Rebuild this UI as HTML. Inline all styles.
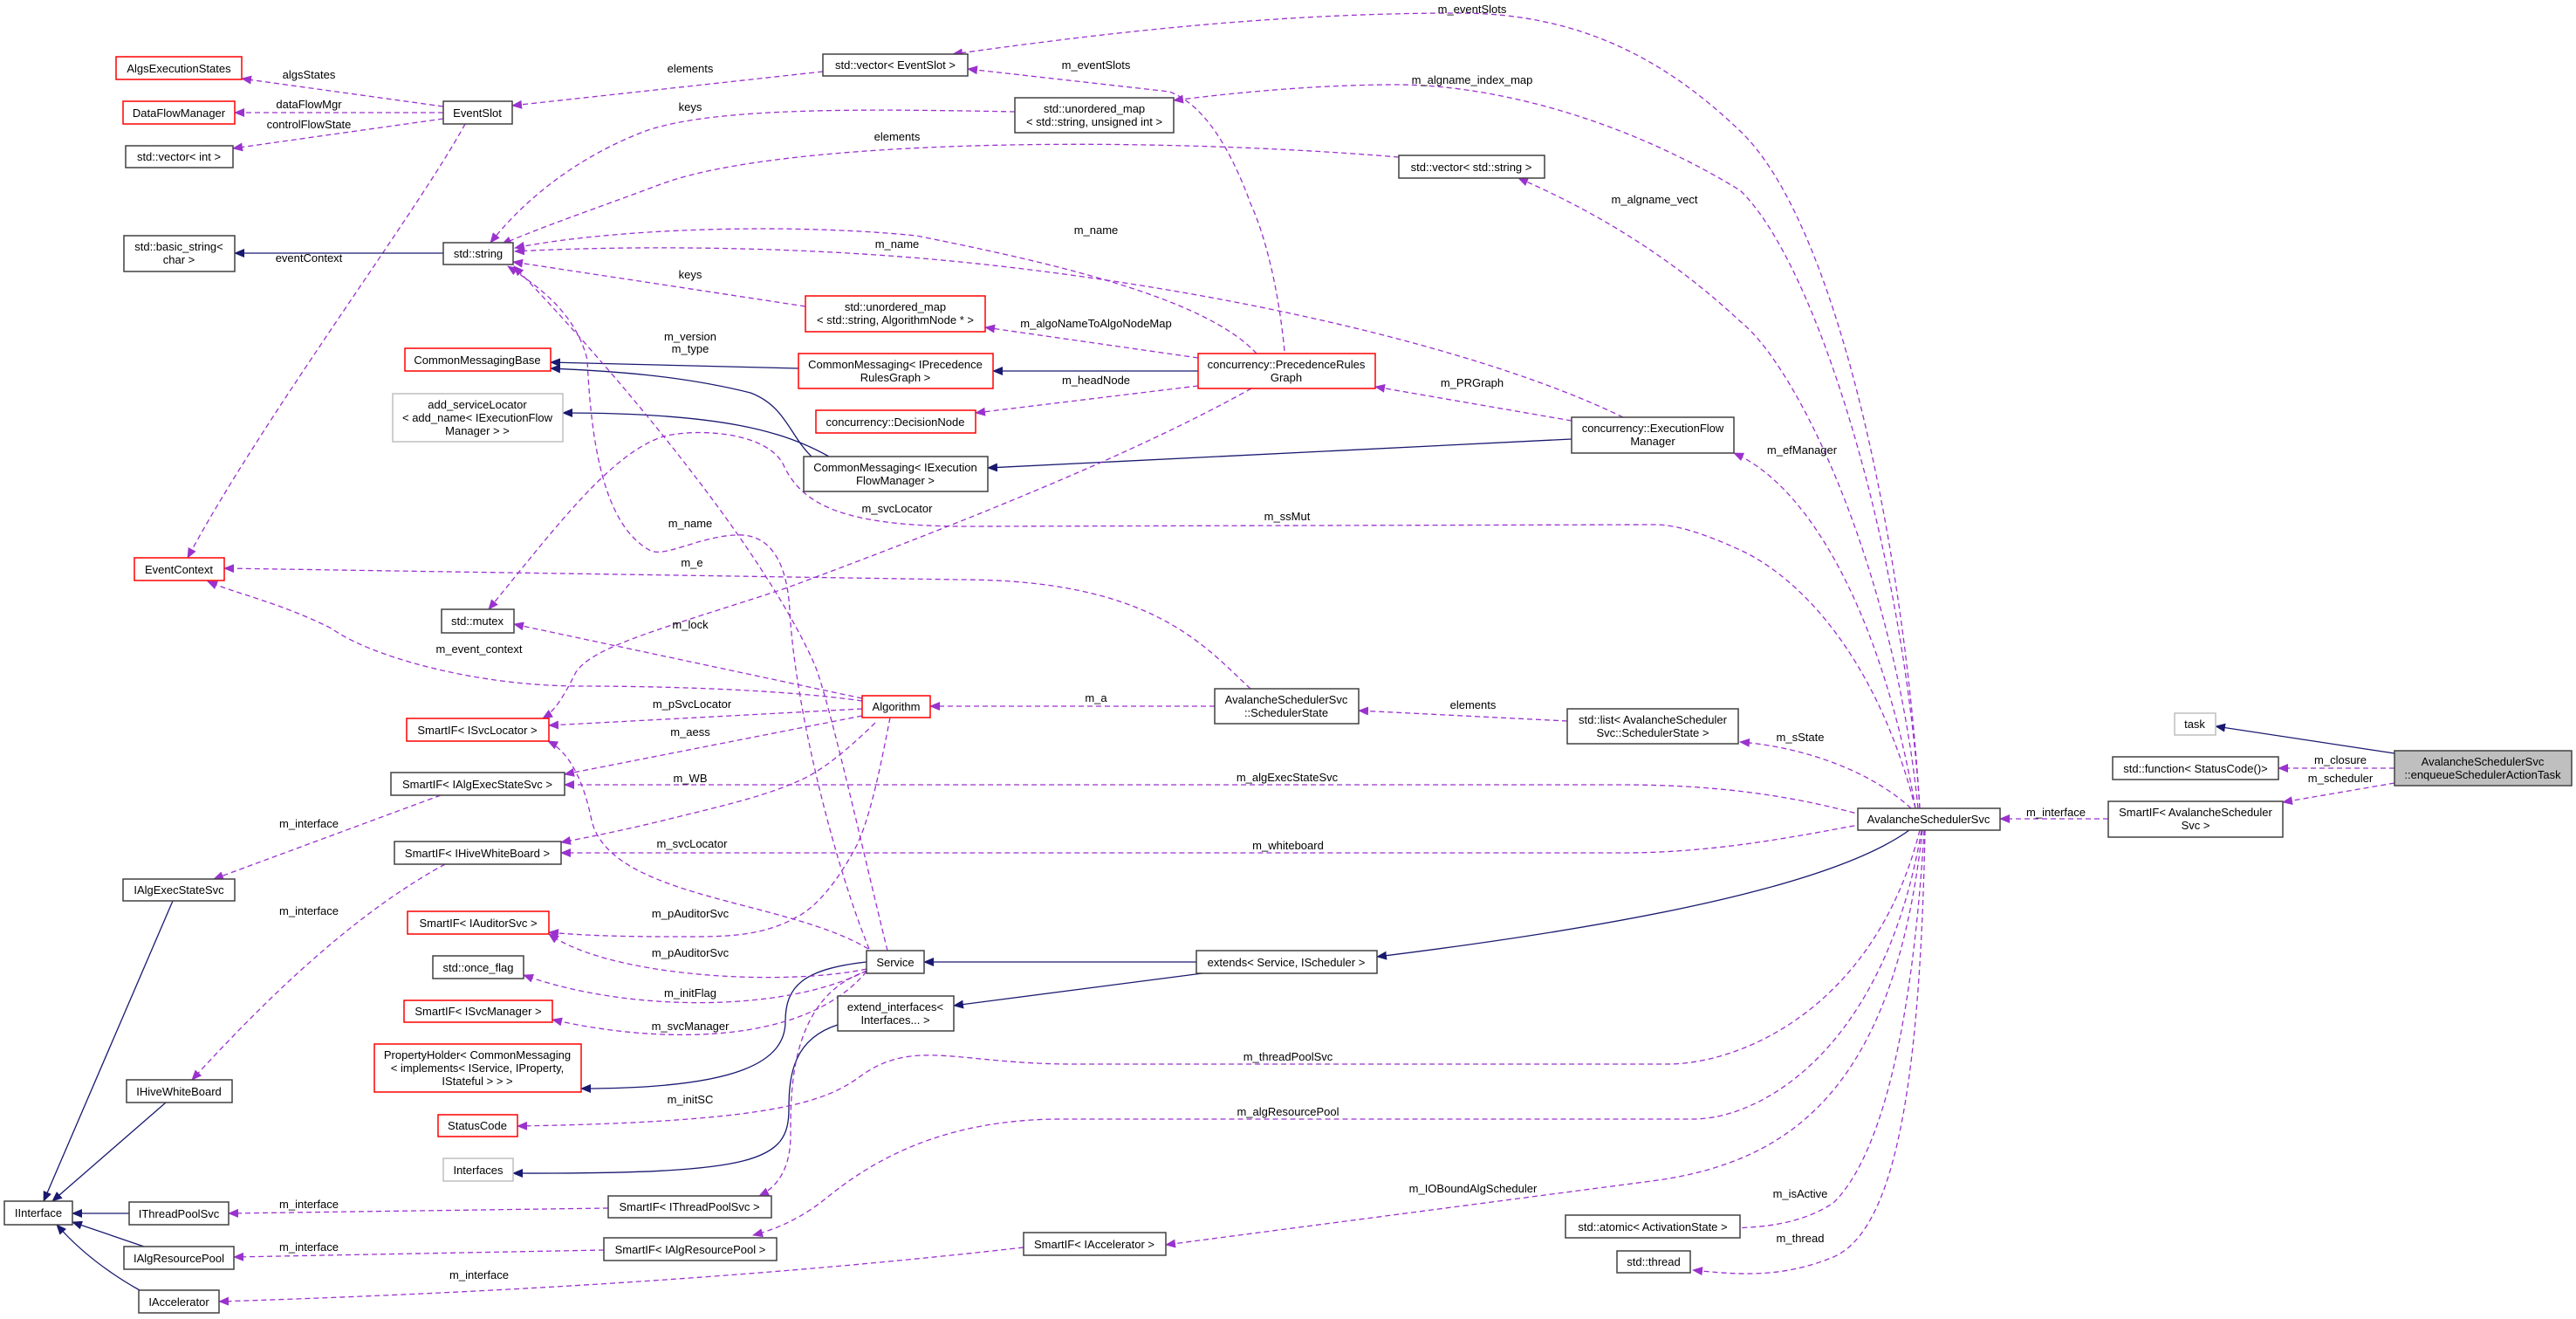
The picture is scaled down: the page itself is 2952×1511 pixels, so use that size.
<!DOCTYPE html>
<html><head><meta charset="utf-8"><style>
html,body{margin:0;padding:0;background:#fff;}
svg{display:block;}
text{font-family:"Liberation Sans",sans-serif;font-size:13px;fill:#000;}
.n{fill:#fff;stroke:#404040;stroke-width:1.5;}
.r{fill:#fff;stroke:#ff0000;stroke-width:1.5;}
.g{fill:#fff;stroke:#bfbfbf;stroke-width:1.5;}
.d{fill:none;stroke:#9a32cd;stroke-width:1.3;stroke-dasharray:6,4;marker-end:url(#ap);}
.s{fill:none;stroke:#191970;stroke-width:1.3;marker-end:url(#an);}
</style></head><body>
<svg width="2952" height="1511" viewBox="0 0 2952 1511" xmlns="http://www.w3.org/2000/svg">
<defs>
<marker id="ap" markerWidth="12" markerHeight="10" refX="11" refY="5" orient="auto" markerUnits="userSpaceOnUse"><path d="M0,0 L12,5 L0,10 z" fill="#9a32cd"/></marker>
<marker id="an" markerWidth="12" markerHeight="10" refX="11" refY="5" orient="auto" markerUnits="userSpaceOnUse"><path d="M0,0 L12,5 L0,10 z" fill="#191970"/></marker>
</defs>

<!-- edges -->
<path class="d" d="M508,122 L277,90"/>
<path class="d" d="M508,129 L269,129"/>
<path class="d" d="M508,136 L267,170"/>
<path class="d" d="M533,142 C480,240 300,480 215,639"/>
<path class="s" d="M508,290 L269,290"/>
<path class="d" d="M943,82 L587,121"/>
<path class="d" d="M1163,128 C1000,125 820,122 740,150 C660,180 600,230 562,278"/>
<path class="d" d="M1603,180 C1300,155 900,160 760,210 C680,240 620,260 575,280"/>
<path class="d" d="M1440,405 C1380,340 1200,300 1050,270 C900,255 700,262 590,284"/>
<path class="d" d="M1860,478 C1700,400 1400,330 1100,300 C900,280 700,282 590,288"/>
<path class="d" d="M923,351 L588,300"/>
<path class="s" d="M915,422 L631,415"/>
<path class="s" d="M930,523 C905,499 900,465 860,450 C780,430 700,425 631,422"/>
<path class="s" d="M950,523 C900,495 830,473 645,473"/>
<path class="s" d="M1373,425 L1138,425"/>
<path class="d" d="M1373,410 L1129,375"/>
<path class="d" d="M1373,442 L1118,473"/>
<path class="d" d="M1472,402 C1465,330 1450,270 1433,233 C1410,170 1380,120 1340,105 L1109,79"/>
<path class="d" d="M1801,482 L1576,443"/>
<path class="s" d="M1801,503 L1132,536"/>
<path class="d" d="M1434,445 C1300,520 1100,600 900,674 C760,720 680,740 660,770 C645,800 635,815 622,823"/>
<!-- Avalanche fan -->
<path class="d" d="M2200,926 C2180,600 2100,250 1994,150 C1900,60 1800,15 1671,15 C1450,15 1250,40 1092,62"/>
<path class="d" d="M2200,926 C2180,620 2080,300 1994,218 C1850,130 1700,97 1601,97 C1500,97 1400,108 1345,115"/>
<path class="d" d="M2198,926 C2170,650 2060,420 1994,368 C1900,280 1800,230 1740,204"/>
<path class="d" d="M2195,926 C2160,720 2080,560 1987,519"/>
<path class="d" d="M2195,926 C2150,750 2060,660 1994,630 C1950,610 1920,601 1896,601 L1110,603 C970,603 920,580 898,533 C880,495 800,490 760,500 C700,520 640,600 560,698"/>
<path class="d" d="M1433,789 C1380,740 1320,664 1100,664 L257,651"/>
<path class="d" d="M1392,809 L1066,809"/>
<path class="d" d="M1796,826 L1557,814"/>
<path class="d" d="M2190,926 C2140,880 2060,855 1994,850"/>
<path class="d" d="M2135,934 C2050,910 1960,899 1860,899 L647,899"/>
<path class="d" d="M2135,944 C2050,960 1960,977 1860,977 L643,977"/>
<path class="s" d="M2188,951 C2120,1000 1950,1050 1578,1096"/>
<path class="s" d="M1371,1102 L1059,1102"/>
<path class="s" d="M1378,1115 L1093,1152"/>
<path class="s" d="M993,1102 C920,1110 900,1130 900,1170 C900,1215 850,1247 666,1247"/>
<path class="s" d="M960,1174 C910,1190 904,1230 904,1270 C904,1330 870,1345 588,1344"/>
<path class="d" d="M995,1087 C900,1030 700,1030 678,940 C668,890 650,860 628,849"/>
<path class="d" d="M996,1087 C960,1000 912,820 905,700 C902,640 880,610 842,613 C800,615 760,640 744,630 C690,600 677,500 673,412 C660,360 620,330 582,305"/>
<path class="d" d="M1017,1089 C990,980 950,800 933,760 C870,620 700,420 589,305"/>
<path class="d" d="M988,803 C900,790 760,786 666,786 C540,786 421,750 380,720 C320,690 270,680 238,666"/>
<path class="d" d="M988,800 L589,715"/>
<path class="d" d="M988,812 L629,831"/>
<path class="d" d="M988,820 L647,887"/>
<path class="d" d="M1003,828 C970,860 940,885 912,896 C880,910 842,920 780,935 C720,950 680,958 643,965"/>
<path class="d" d="M1020,822 C1005,900 995,940 982,968 C960,1010 935,1040 912,1051 C870,1075 820,1073 771,1073 C720,1073 670,1072 629,1068"/>
<path class="d" d="M993,1110 C900,1130 700,1120 629,1070"/>
<path class="d" d="M993,1112 C900,1160 720,1160 600,1117"/>
<path class="d" d="M993,1113 C920,1200 750,1195 633,1168"/>
<path class="d" d="M995,1112 C905,1140 906,1250 906,1300 C906,1340 890,1360 870,1370"/>
<path class="d" d="M2200,951 C2150,1150 2000,1219 1910,1219 L1230,1219 C1100,1219 1050,1190 990,1230 C950,1260 900,1285 593,1290"/>
<path class="d" d="M2202,951 C2160,1200 2020,1282 1940,1282 L1216,1282 C1080,1282 1000,1330 950,1370 C920,1395 890,1408 863,1415"/>
<path class="d" d="M2203,951 C2170,1250 2050,1330 1900,1352 L1336,1426"/>
<path class="d" d="M1173,1429 C900,1460 600,1480 251,1491"/>
<path class="d" d="M697,1384 L262,1390"/>
<path class="d" d="M692,1432 L268,1440"/>
<path class="d" d="M505,911 L245,1007"/>
<path class="d" d="M510,990 C400,1050 300,1150 220,1237"/>
<path class="s" d="M198,1032 L50,1376"/>
<path class="s" d="M190,1263 L60,1376"/>
<path class="s" d="M148,1390 L83,1390"/>
<path class="s" d="M165,1428 L83,1400"/>
<path class="s" d="M160,1478 C110,1450 80,1420 65,1403"/>
<path class="d" d="M2205,951 C2190,1200 2150,1330 2101,1378 C2060,1405 2010,1407 1967,1407"/>
<path class="d" d="M2206,951 C2200,1250 2170,1410 2101,1440 C2040,1465 1990,1460 1940,1455"/>
<path class="d" d="M2416,938 L2292,938"/>
<path class="s" d="M2744,863 L2539,832"/>
<path class="d" d="M2744,880 L2611,880"/>
<path class="d" d="M2744,897 L2616,919"/>

<!-- edge labels -->
<g text-anchor="middle">
<text x="354" y="90">algsStates</text>
<text x="354" y="124">dataFlowMgr</text>
<text x="354" y="147">controlFlowState</text>
<text x="354" y="300">eventContext</text>
<text x="791" y="83">elements</text>
<text x="791" y="127">keys</text>
<text x="1028" y="161">elements</text>
<text x="1256" y="268">m_name</text>
<text x="1028" y="284">m_name</text>
<text x="791" y="319">keys</text>
<text x="791" y="390">m_version</text>
<text x="791" y="404">m_type</text>
<text x="1256" y="375">m_algoNameToAlgoNodeMap</text>
<text x="1256" y="440">m_headNode</text>
<text x="1256" y="79">m_eventSlots</text>
<text x="1687" y="443">m_PRGraph</text>
<text x="1687" y="15">m_eventSlots</text>
<text x="1687" y="96">m_algname_index_map</text>
<text x="1896" y="233">m_algname_vect</text>
<text x="2065" y="520">m_efManager</text>
<text x="1028" y="587">m_svcLocator</text>
<text x="1475" y="596">m_ssMut</text>
<text x="791" y="604">m_name</text>
<text x="793" y="649">m_e</text>
<text x="791" y="720">m_lock</text>
<text x="549" y="748">m_event_context</text>
<text x="1256" y="804">m_a</text>
<text x="1688" y="812">elements</text>
<text x="2063" y="849">m_sState</text>
<text x="793" y="811">m_pSvcLocator</text>
<text x="791" y="843">m_aess</text>
<text x="791" y="896">m_WB</text>
<text x="1475" y="895">m_algExecStateSvc</text>
<text x="354" y="948">m_interface</text>
<text x="793" y="971">m_svcLocator</text>
<text x="1476" y="973">m_whiteboard</text>
<text x="354" y="1048">m_interface</text>
<text x="791" y="1051">m_pAuditorSvc</text>
<text x="791" y="1096">m_pAuditorSvc</text>
<text x="791" y="1142">m_initFlag</text>
<text x="791" y="1180">m_svcManager</text>
<text x="1476" y="1215">m_threadPoolSvc</text>
<text x="791" y="1264">m_initSC</text>
<text x="1476" y="1278">m_algResourcePool</text>
<text x="1688" y="1366">m_IOBoundAlgScheduler</text>
<text x="354" y="1384">m_interface</text>
<text x="354" y="1433">m_interface</text>
<text x="549" y="1465">m_interface</text>
<text x="2063" y="1372">m_isActive</text>
<text x="2063" y="1423">m_thread</text>
<text x="2356" y="935">m_interface</text>
<text x="2682" y="875">m_closure</text>
<text x="2682" y="896">m_scheduler</text>
</g>

<!-- nodes -->
<g text-anchor="middle">
<rect class="r" x="133" y="65" width="144" height="26"/><text x="205" y="83">AlgsExecutionStates</text>
<rect class="r" x="141" y="116" width="128" height="26"/><text x="205" y="134">DataFlowManager</text>
<rect class="n" x="144" y="167" width="123" height="25"/><text x="205" y="184">std::vector&lt; int &gt;</text>
<rect class="n" x="508" y="116" width="79" height="26"/><text x="547" y="134">EventSlot</text>
<rect class="n" x="142" y="270" width="127" height="41"/><text x="205" y="287">std::basic_string&lt;</text><text x="205" y="302">char &gt;</text>
<rect class="n" x="508" y="278" width="80" height="25"/><text x="548" y="295">std::string</text>
<rect class="r" x="464" y="399" width="167" height="26"/><text x="547" y="417">CommonMessagingBase</text>
<rect class="g" x="450" y="451" width="195" height="55"/><text x="547" y="468">add_serviceLocator</text><text x="547" y="483">&lt; add_name&lt; IExecutionFlow</text><text x="547" y="498">Manager &gt; &gt;</text>
<rect class="r" x="154" y="639" width="103" height="26"/><text x="205" y="657">EventContext</text>
<rect class="n" x="506" y="698" width="83" height="27"/><text x="547" y="716">std::mutex</text>
<rect class="n" x="943" y="62" width="166" height="25"/><text x="1026" y="79">std::vector&lt; EventSlot &gt;</text>
<rect class="n" x="1163" y="112" width="182" height="40"/><text x="1254" y="129">std::unordered_map</text><text x="1254" y="144">&lt; std::string, unsigned int &gt;</text>
<rect class="n" x="1603" y="178" width="167" height="26"/><text x="1686" y="196">std::vector&lt; std::string &gt;</text>
<rect class="r" x="923" y="339" width="206" height="41"/><text x="1026" y="356">std::unordered_map</text><text x="1026" y="371">&lt; std::string, AlgorithmNode * &gt;</text>
<rect class="r" x="915" y="405" width="223" height="40"/><text x="1026" y="422">CommonMessaging&lt; IPrecedence</text><text x="1026" y="437">RulesGraph &gt;</text>
<rect class="r" x="935" y="470" width="183" height="26"/><text x="1026" y="488">concurrency::DecisionNode</text>
<rect class="n" x="921" y="523" width="211" height="40"/><text x="1026" y="540">CommonMessaging&lt; IExecution</text><text x="1026" y="555">FlowManager &gt;</text>
<rect class="r" x="1373" y="405" width="203" height="40"/><text x="1474" y="422">concurrency::PrecedenceRules</text><text x="1474" y="437">Graph</text>
<rect class="n" x="1801" y="478" width="186" height="41"/><text x="1894" y="495">concurrency::ExecutionFlow</text><text x="1894" y="510">Manager</text>
<rect class="r" x="988" y="797" width="78" height="25"/><text x="1027" y="814">Algorithm</text>
<rect class="r" x="466" y="823" width="163" height="26"/><text x="547" y="841">SmartIF&lt; ISvcLocator &gt;</text>
<rect class="n" x="448" y="885" width="199" height="26"/><text x="547" y="903">SmartIF&lt; IAlgExecStateSvc &gt;</text>
<rect class="n" x="452" y="964" width="191" height="26"/><text x="547" y="982">SmartIF&lt; IHiveWhiteBoard &gt;</text>
<rect class="n" x="141" y="1007" width="128" height="25"/><text x="205" y="1024">IAlgExecStateSvc</text>
<rect class="r" x="467" y="1044" width="162" height="26"/><text x="548" y="1062">SmartIF&lt; IAuditorSvc &gt;</text>
<rect class="n" x="496" y="1095" width="104" height="26"/><text x="548" y="1113">std::once_flag</text>
<rect class="r" x="463" y="1146" width="170" height="25"/><text x="548" y="1163">SmartIF&lt; ISvcManager &gt;</text>
<rect class="r" x="429" y="1196" width="237" height="55"/><text x="547" y="1213">PropertyHolder&lt; CommonMessaging</text><text x="547" y="1228">&lt; implements&lt; IService, IProperty,</text><text x="547" y="1243">IStateful &gt; &gt; &gt;</text>
<rect class="n" x="145" y="1237" width="121" height="26"/><text x="205" y="1255">IHiveWhiteBoard</text>
<rect class="r" x="502" y="1277" width="91" height="25"/><text x="547" y="1294">StatusCode</text>
<rect class="g" x="508" y="1327" width="80" height="26"/><text x="548" y="1345">Interfaces</text>
<rect class="n" x="993" y="1089" width="66" height="26"/><text x="1026" y="1107">Service</text>
<rect class="n" x="960" y="1141" width="133" height="40"/><text x="1026" y="1158">extend_interfaces&lt;</text><text x="1026" y="1173">Interfaces... &gt;</text>
<rect class="n" x="5" y="1376" width="78" height="27"/><text x="44" y="1394">IInterface</text>
<rect class="n" x="148" y="1377" width="114" height="26"/><text x="205" y="1395">IThreadPoolSvc</text>
<rect class="n" x="697" y="1370" width="187" height="25"/><text x="790" y="1387">SmartIF&lt; IThreadPoolSvc &gt;</text>
<rect class="n" x="142" y="1428" width="126" height="26"/><text x="205" y="1446">IAlgResourcePool</text>
<rect class="n" x="692" y="1418" width="198" height="26"/><text x="791" y="1436">SmartIF&lt; IAlgResourcePool &gt;</text>
<rect class="n" x="159" y="1478" width="92" height="26"/><text x="205" y="1496">IAccelerator</text>
<rect class="n" x="1392" y="789" width="165" height="40"/><text x="1474" y="806">AvalancheSchedulerSvc</text><text x="1474" y="821">::SchedulerState</text>
<rect class="n" x="1796" y="812" width="196" height="40"/><text x="1894" y="829">std::list&lt; AvalancheScheduler</text><text x="1894" y="844">Svc::SchedulerState &gt;</text>
<rect class="n" x="1371" y="1089" width="207" height="26"/><text x="1474" y="1107">extends&lt; Service, IScheduler &gt;</text>
<rect class="n" x="1173" y="1412" width="163" height="26"/><text x="1254" y="1430">SmartIF&lt; IAccelerator &gt;</text>
<rect class="n" x="1794" y="1392" width="200" height="26"/><text x="1894" y="1410">std::atomic&lt; ActivationState &gt;</text>
<rect class="n" x="1853" y="1433" width="84" height="25"/><text x="1895" y="1450">std::thread</text>
<rect class="g" x="2492" y="817" width="47" height="25"/><text x="2515" y="834">task</text>
<rect class="n" x="2421" y="867" width="190" height="26"/><text x="2516" y="885">std::function&lt; StatusCode()&gt;</text>
<rect x="2744" y="860" width="203" height="40" fill="#bfbfbf" stroke="#404040" stroke-width="1.5"/><text x="2845" y="877">AvalancheSchedulerSvc</text><text x="2845" y="892">::enqueueSchedulerActionTask</text>
<rect class="n" x="2129" y="926" width="163" height="25"/><text x="2210" y="943">AvalancheSchedulerSvc</text>
<rect class="n" x="2416" y="918" width="200" height="41"/><text x="2516" y="935">SmartIF&lt; AvalancheScheduler</text><text x="2516" y="950">Svc &gt;</text>
</g>
</svg>
</body></html>
